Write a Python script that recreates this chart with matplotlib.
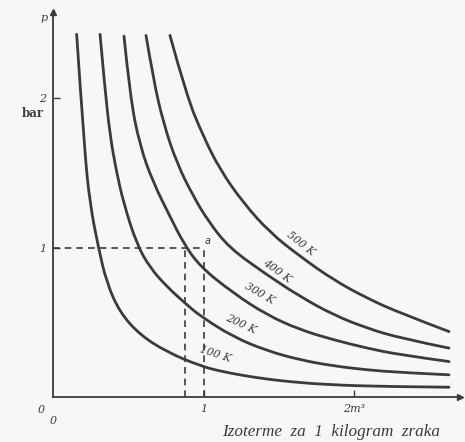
import matplotlib
matplotlib.use("Agg")
import matplotlib.pyplot as plt
from matplotlib.path import Path
from matplotlib.patches import PathPatch
import numpy as np

# isotherms for 1 kg of air (V in m3, p in bar)
v_100 = [0.157, 0.208, 0.246, 0.301, 0.356, 0.445, 0.577, 0.754, 0.975, 1.128, 1.352, 1.573, 1.838, 2.214, 2.628]
p_100 = [2.430, 1.658, 1.289, 1.002, 0.765, 0.564, 0.416, 0.302, 0.208, 0.168, 0.128, 0.101, 0.081, 0.069, 0.065]

v_200 = [0.312, 0.345, 0.378, 0.418, 0.471, 0.557, 0.644, 0.756, 0.889, 0.975, 1.194, 1.420, 1.639, 1.858, 2.084, 2.303, 2.628]
p_200 = [2.430, 2.060, 1.758, 1.523, 1.289, 1.020, 0.866, 0.738, 0.617, 0.544, 0.403, 0.309, 0.248, 0.208, 0.181, 0.164, 0.148]

v_300 = [0.471, 0.511, 0.577, 0.666, 0.776, 0.865, 0.975, 1.196, 1.418, 1.639, 1.860, 2.082, 2.303, 2.628]
p_300 = [2.418, 2.015, 1.680, 1.434, 1.210, 1.032, 0.874, 0.696, 0.550, 0.450, 0.383, 0.327, 0.282, 0.237]

v_400 = [0.617, 0.666, 0.732, 0.821, 0.931, 1.031, 1.168, 1.418, 1.639, 1.860, 2.082, 2.303, 2.628]
p_400 = [2.423, 2.128, 1.837, 1.568, 1.344, 1.177, 1.000, 0.819, 0.673, 0.550, 0.461, 0.394, 0.327]

v_500 = [0.776, 0.887, 0.997, 1.108, 1.263, 1.440, 1.639, 1.860, 2.082, 2.303, 2.628]
p_500 = [2.423, 2.015, 1.747, 1.523, 1.300, 1.101, 0.942, 0.785, 0.662, 0.562, 0.438]

labels = ["100 K", "200 K", "300 K", "400 K", "500 K"]
label_v = [1.075, 1.245, 1.372, 1.488, 1.640]
label_p = [0.285, 0.490, 0.690, 0.845, 1.025]
label_rot = [-18, -25, -30, -36, -38]

# state point a and the 300 K volume at 1 bar
v_a, p_a = 1.0, 1.0
v_b = 0.876

ink = "#3b3b3b"
bg = "#f6f7f9"


def smooth_path(xs, ys):
    # quadratic bezier through the midpoints, read points act as control points
    pts = np.column_stack([xs, ys])
    verts = [pts[0]]
    codes = [Path.MOVETO]
    for i in range(1, len(pts) - 1):
        mid = (pts[i] + pts[i + 1]) / 2
        verts += [pts[i], mid if i < len(pts) - 2 else pts[i + 1]]
        codes += [Path.CURVE3, Path.CURVE3]
    if len(pts) == 2:
        verts.append(pts[1])
        codes.append(Path.LINETO)
    return Path(verts, codes)


fig = plt.figure(figsize=(4.65, 4.42), dpi=100, facecolor=bg)
ax = fig.add_axes([0.114, 0.102, 0.875, 0.871])
ax.set_facecolor(bg)
ax.set_xlim(0, 2.70)
ax.set_ylim(0, 2.58)

for v, p in [(v_100, p_100), (v_200, p_200), (v_300, p_300), (v_400, p_400), (v_500, p_500)]:
    ax.add_patch(PathPatch(smooth_path(v, p), facecolor="none", edgecolor=ink,
                           lw=2.0, capstyle="round", joinstyle="round"))

for t, x, y, r in zip(labels, label_v, label_p, label_rot):
    ax.text(x, y, t, rotation=r, ha="center", va="center", fontsize=7.8,
            family="DejaVu Serif", style="italic", color=ink)

dash = dict(color=ink, lw=1.2, ls=(0, (4, 3)))
ax.plot([0, v_a], [p_a, p_a], **dash)
ax.plot([v_b, v_b], [0, p_a], **dash)
ax.plot([v_a, v_a], [0, p_a], **dash)
ax.text(v_a + 0.005, p_a + 0.01, "a", fontsize=7, style="italic", color=ink, ha="left", va="bottom")

for s in ["top", "right"]:
    ax.spines[s].set_visible(False)
for s in ["left", "bottom"]:
    ax.spines[s].set_color(ink)
    ax.spines[s].set_linewidth(1.3)

ax.set_xticks([1, 2])
ax.set_xticklabels(["1", "2m³"])
ax.set_yticks([1, 2])
ax.set_yticklabels(["1", "2"])
ax.tick_params(direction="in", length=5, width=1, colors=ink, labelsize=8, pad=5)
for lab in ax.get_xticklabels() + ax.get_yticklabels():
    lab.set_fontstyle("italic")
    lab.set_family("DejaVu Serif")

# arrow heads on the axes
ax.plot(1, 0, ">", color=ink, ms=5, transform=ax.transAxes, clip_on=False)
ax.plot(0, 1, "^", color=ink, ms=4, transform=ax.transAxes, clip_on=False)

ax.text(-0.02, -0.035, "0", transform=ax.transAxes, fontsize=8, style="italic",
        family="DejaVu Serif", color=ink, ha="right", va="center")
ax.text(0.0, -0.05, "0", transform=ax.transAxes, fontsize=8, style="italic",
        family="DejaVu Serif", color=ink, ha="center", va="top")
ax.text(-0.012, 0.985, "p", transform=ax.transAxes, fontsize=8, style="italic",
        family="DejaVu Serif", color=ink, ha="right", va="center")
ax.text(-0.022, 0.735, "bar", transform=ax.transAxes, fontsize=8.5, weight="bold",
        family="DejaVu Serif", color=ink, ha="right", va="center")

fig.text(0.712, 0.022, "Izoterme  za  1  kilogram  zraka", fontsize=12.3, style="italic",
         family="Liberation Serif", color=ink, ha="center", va="center")

fig.savefig("out.png", dpi=100, facecolor=bg)
